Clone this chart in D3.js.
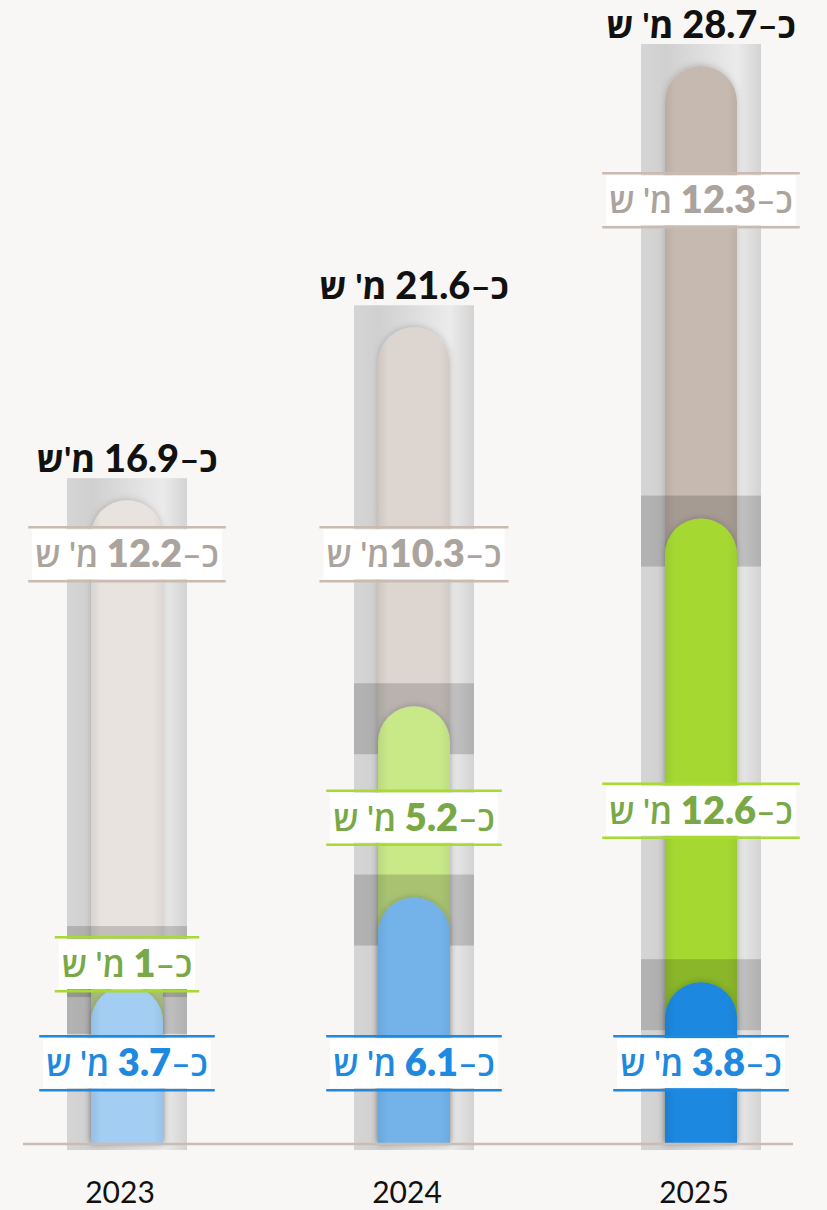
<!DOCTYPE html>
<html lang="he">
<head>
<meta charset="utf-8">
<script src="https://cdn.jsdelivr.net/npm/d3@7"></script>
<style>
  body { margin: 0; background: #f8f7f5; }
  svg { display: block; font-family: Lato, "Open Sans", "Liberation Sans", sans-serif; }
</style>
</head>
<body>
<div id="main"></div>
<script>
// values, in millions
const years = ["2023", "2024", "2025"];
const totalVals = [16.9, 21.6, 28.7];
const otherVals = [12.2, 10.3, 12.3];
const greenVals = [1, 5.2, 12.6];
const blueVals = [3.7, 6.1, 3.8];

const totalUnits = ["מ'ש", "מ' ש", "מ' ש"];
const otherGap = [" ", "", " "];
const unit = "מ' ש";

// where each label sits, in value units along the bar
const otherLabelAt = [15.43, 15.43, 25.05];
const greenLabelAt = [4.29, 8.27, 8.46];
const blueLabelAt = [1.6, 1.6, 1.6];

const otherColors = ["#e8e3df", "#ddd5d0", "#c6b9b0"];
const greenColors = ["#cde8a0", "#c9e888", "#a5d930"];
const blueColors = ["#a3cdf2", "#73b3ea", "#1a88e0"];

function drawChart() {
    const w = 827;
    const h = 1210;
    const base = 1144;
    const trackW = 120;
    const barW = 72;
    const r = barW / 2;

    const svg = d3.select("#main").append("svg").attr("width", w).attr("height", h);

    const x = d3.scalePoint().domain(years).range([127, 701]);
    const y = d3.scaleLinear().domain([0, d3.max(totalVals)]).range([1122, 66]);

    const defs = svg.append("defs");
    const tg = defs.append("linearGradient").attr("id", "track");
    tg.append("stop").attr("offset", "0%").attr("stop-color", "#d5d5d5");
    tg.append("stop").attr("offset", "21%").attr("stop-color", "#d0d0d0");
    tg.append("stop").attr("offset", "80%").attr("stop-color", "#ebebeb");
    tg.append("stop").attr("offset", "100%").attr("stop-color", "#d3d3d3");

    const eg = defs.append("linearGradient").attr("id", "edge");
    eg.append("stop").attr("offset", "0%").attr("stop-color", "#000").attr("stop-opacity", 0.07);
    eg.append("stop").attr("offset", "14%").attr("stop-color", "#000").attr("stop-opacity", 0);
    eg.append("stop").attr("offset", "86%").attr("stop-color", "#000").attr("stop-opacity", 0);
    eg.append("stop").attr("offset", "100%").attr("stop-color", "#000").attr("stop-opacity", 0.05);

    defs.append("filter").attr("id", "shadow")
        .attr("x", "-30%").attr("y", "-10%").attr("width", "160%").attr("height", "120%")
        .append("feDropShadow")
        .attr("dx", 0).attr("dy", -1).attr("stdDeviation", 3)
        .attr("flood-color", "#000").attr("flood-opacity", 0.18);

    function pill(cx, top) {
        return "M" + (cx - r) + "," + base + "V" + (top + r) +
            "A" + r + "," + r + " 0 0 1 " + (cx + r) + "," + (top + r) + "V" + base + "Z";
    }

    const rows = years.map((yr, i) => ({
        year: yr, i: i,
        total: totalVals[i], other: otherVals[i], green: greenVals[i], blue: blueVals[i]
    }));

    const cols = svg.selectAll("g.col").data(rows).enter().append("g").attr("class", "col");

    cols.each(function (d) {
        const g = d3.select(this);
        const cx = x(d.year);

        // track
        g.append("rect")
            .attr("x", cx - trackW / 2).attr("y", y(d.total) - 22)
            .attr("width", trackW).attr("height", base + 6 - (y(d.total) - 22))
            .attr("fill", "url(#track)");

        const segs = [
            { top: d.total, color: otherColors[d.i], band: false },
            { top: d.green + d.blue, color: greenColors[d.i], band: true },
            { top: d.blue, color: blueColors[d.i], band: true }
        ];

        segs.forEach(s => {
            const t = y(s.top);
            if (s.band) {
                g.append("rect")
                    .attr("x", cx - trackW / 2).attr("y", t - 23)
                    .attr("width", trackW).attr("height", 71)
                    .attr("fill", "#000").attr("opacity", 0.16);
            }
            g.append("path").attr("d", pill(cx, t)).attr("fill", s.color).attr("filter", "url(#shadow)");
            g.append("path").attr("d", pill(cx, t)).attr("fill", "url(#edge)");
        });
    });

    // baseline
    svg.append("line")
        .attr("x1", 23).attr("x2", 793).attr("y1", base).attr("y2", base)
        .attr("stroke", "#c9bcb3").attr("stroke-width", 2.5);

    function label(cx, cy, num, gap, textCol, lineCol) {
        const g = svg.append("g");
        const t = g.append("text")
            .attr("x", cx).attr("y", cy + 13)
            .attr("direction", "rtl").attr("text-anchor", "middle")
            .attr("fill", textCol).style("font-size", "34px");
        t.append("tspan").attr("font-weight", 600).text("כ–");
        t.append("tspan").attr("font-weight", 800).style("font-size", "38px").text(num);
        t.append("tspan").attr("font-weight", 600).text(gap + unit);
        const bb = t.node().getBBox();
        g.insert("rect", "text")
            .attr("x", bb.x - 3).attr("y", cy - 25)
            .attr("width", bb.width + 6).attr("height", 50)
            .attr("fill", "#fff");
        [cy - 27, cy + 27].forEach(ly => {
            g.append("line")
                .attr("x1", bb.x - 7).attr("x2", bb.x + bb.width + 7)
                .attr("y1", ly).attr("y2", ly)
                .attr("stroke", lineCol).attr("stroke-width", 2.5);
        });
    }

    rows.forEach(d => {
        const cx = x(d.year);
        label(cx, y(otherLabelAt[d.i]), d.other, otherGap[d.i], "#aba39d", "#c9bbb2");
        label(cx, y(greenLabelAt[d.i]), d.green, " ", "#78a946", "#a8da33");
        label(cx, y(blueLabelAt[d.i]), d.blue, " ", "#1d89e0", "#1d89e0");
    });

    // totals above the tracks
    const tot = svg.selectAll("text.total").data(rows).enter().append("text")
        .attr("class", "total")
        .attr("x", d => x(d.year)).attr("y", d => y(d.total) - 28)
        .attr("direction", "rtl").attr("text-anchor", "middle")
        .attr("fill", "#111").style("font-size", "35px");
    tot.append("tspan").attr("font-weight", 700).text("כ–");
    tot.append("tspan").attr("font-weight", 900).style("font-size", "38px").text(d => d.total);
    tot.append("tspan").attr("font-weight", 700).text(d => " " + totalUnits[d.i]);

    // years
    svg.selectAll("text.year").data(rows).enter().append("text")
        .attr("class", "year")
        .attr("x", d => x(d.year) - 7).attr("y", 1203)
        .attr("text-anchor", "middle").attr("fill", "#111")
        .style("font-size", "30px")
        .text(d => d.year);
}

drawChart();
</script>
</body>
</html>
